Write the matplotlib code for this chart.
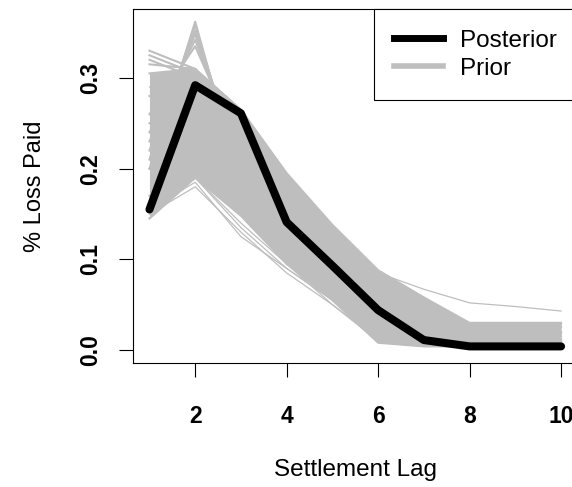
import numpy as np
import matplotlib
matplotlib.use("Agg")
import matplotlib.pyplot as plt
from matplotlib.lines import Line2D

plt.rcParams['font.family'] = ['Liberation Sans', 'DejaVu Sans']

lags = [1, 2, 3, 4, 5, 6, 7, 8, 9, 10]
posterior = [0.155, 0.292, 0.261, 0.141, 0.093, 0.044, 0.011, 0.004, 0.004, 0.004]

# dense body of prior draws (filled between min and max)
prior_band = [
    [0.305, 0.31, 0.265, 0.195, 0.138, 0.088, 0.058, 0.030, 0.030, 0.030],
    [0.28, 0.30, 0.25, 0.18, 0.12, 0.07, 0.045, 0.025, 0.025, 0.025],
    [0.25, 0.28, 0.23, 0.16, 0.11, 0.06, 0.035, 0.020, 0.020, 0.020],
    [0.20, 0.24, 0.19, 0.13, 0.08, 0.035, 0.015, 0.010, 0.010, 0.010],
    [0.17, 0.21, 0.17, 0.115, 0.065, 0.020, 0.008, 0.006, 0.006, 0.006],
    [0.145, 0.19, 0.148, 0.095, 0.055, 0.008, 0.004, 0.004, 0.004, 0.004],
]
# separate prior draws
prior_top = [
    [0.33, 0.31, 0.255, 0.185, 0.125, 0.075, 0.050, 0.025, 0.025, 0.025],
    [0.325, 0.305, 0.25, 0.18, 0.12, 0.070, 0.045, 0.020, 0.020, 0.020],
    [0.32, 0.30, 0.26, 0.19, 0.13, 0.080, 0.055, 0.028, 0.028, 0.028],
    [0.315, 0.31, 0.24, 0.17, 0.115, 0.065, 0.040, 0.018, 0.018, 0.018],
]
prior_spike = [
    [0.20, 0.362, 0.18, 0.12, 0.07, 0.030, 0.010, 0.006, 0.006, 0.006],
    [0.21, 0.358, 0.19, 0.125, 0.075, 0.035, 0.015, 0.008, 0.008, 0.008],
    [0.22, 0.352, 0.20, 0.13, 0.08, 0.040, 0.020, 0.010, 0.010, 0.010],
    [0.23, 0.348, 0.205, 0.135, 0.085, 0.042, 0.022, 0.011, 0.011, 0.011],
    [0.24, 0.342, 0.21, 0.14, 0.09, 0.045, 0.025, 0.012, 0.012, 0.012],
    [0.26, 0.335, 0.22, 0.15, 0.095, 0.050, 0.028, 0.015, 0.015, 0.015],
]
prior_tail = [
    [0.29, 0.30, 0.255, 0.19, 0.135, 0.085, 0.067, 0.052, 0.048, 0.043],
]
prior_low = [
    [0.15, 0.18, 0.13, 0.085, 0.050, 0.012, 0.005, 0.004, 0.004, 0.004],
    [0.155, 0.185, 0.125, 0.09, 0.055, 0.015, 0.005, 0.004, 0.004, 0.004],
    [0.16, 0.19, 0.135, 0.09, 0.055, 0.012, 0.005, 0.004, 0.004, 0.004],
    [0.15, 0.19, 0.14, 0.095, 0.050, 0.010, 0.004, 0.004, 0.004, 0.004],
]

x_ticks = [2, 4, 6, 8, 10]
y_ticks = [0.0, 0.1, 0.2, 0.3]
y_tick_labels = ["0.0", "0.1", "0.2", "0.3"]

gray = "#BEBEBE"

fig = plt.figure(figsize=(5.72, 4.87), dpi=100)
ax = fig.add_axes([133 / 572, 124 / 487, 444.5 / 572, 354 / 487])

band = np.array(prior_band)
ax.fill_between(lags, band.min(axis=0), band.max(axis=0), color=gray, lw=0)
for row in prior_band + prior_top + prior_spike:
    ax.plot(lags, row, color=gray, lw=1.5)
for row in prior_tail + prior_low:
    ax.plot(lags, row, color=gray, lw=0.9)

ax.plot(lags, posterior, color="black", lw=5.8, solid_joinstyle="round",
        solid_capstyle="round")

ax.set_xlim(0.64, 10.36)
ax.set_ylim(-0.0143, 0.376)
ax.set_xticks(x_ticks)
ax.set_yticks(y_ticks)
ax.set_yticklabels(y_tick_labels)
ax.tick_params(axis="both", direction="out", length=10, width=0.8,
               labelsize=16.5)
ax.tick_params(axis="x", pad=20)
ax.tick_params(axis="y", pad=12, labelrotation=90)
for lab in ax.get_yticklabels():
    lab.set_va("center")
for lab in ax.get_xticklabels() + ax.get_yticklabels():
    lab.set_fontweight("bold")
for sp in ax.spines.values():
    sp.set_linewidth(0.8)

ax.set_xlabel("Settlement Lag", fontsize=17.5)
ax.set_ylabel("% Loss Paid", fontsize=17)
ax.xaxis.set_label_coords(0.5, -0.27)
ax.yaxis.set_label_coords(-0.195, 0.5)

handles = [Line2D([], [], color="black", lw=5),
           Line2D([], [], color=gray, lw=4)]
leg = ax.legend(handles, ["Posterior", "Prior"], loc="upper right",
                bbox_to_anchor=(1.0, 1.0), borderaxespad=0, fontsize=17.5,
                fancybox=False, framealpha=1, edgecolor="black",
                handlelength=2.0, handletextpad=0.7, labelspacing=0.25,
                borderpad=0.85)
leg.get_frame().set_linewidth(0.8)

fig.savefig("out.png", dpi=100)
